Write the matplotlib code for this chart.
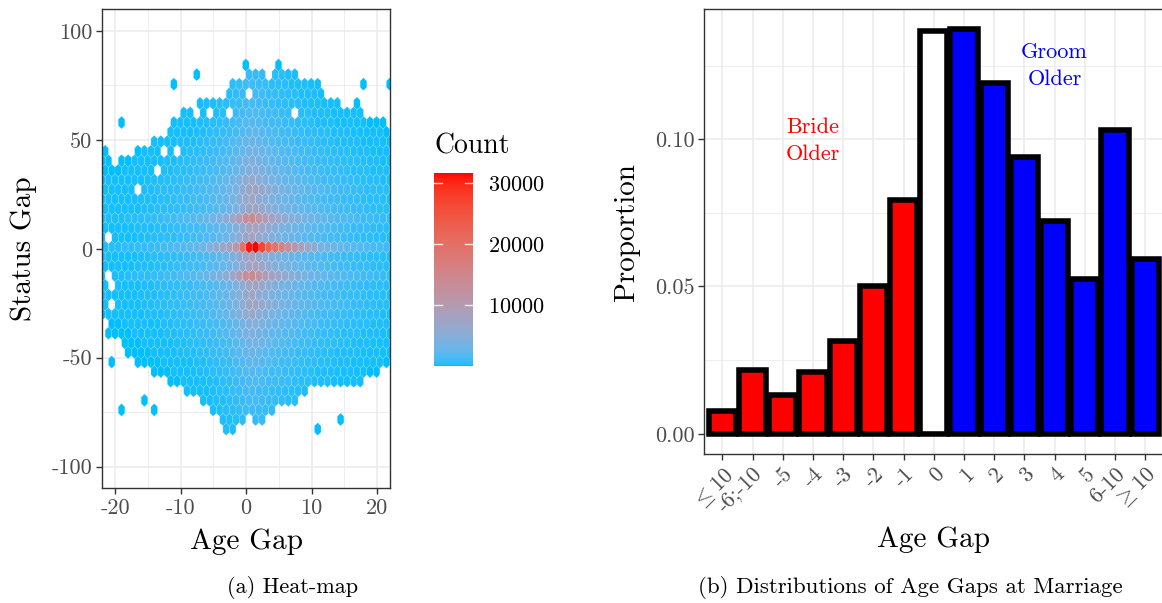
import numpy as np
import matplotlib
matplotlib.use('Agg')
import matplotlib.pyplot as plt
from matplotlib.collections import PolyCollection
from matplotlib.colors import ListedColormap, Normalize

plt.rcParams['font.family'] = 'serif'
plt.rcParams['font.serif'] = ['cmr10']
plt.rcParams['mathtext.fontset'] = 'cm'
plt.rcParams['axes.unicode_minus'] = False
plt.rcParams['axes.formatter.use_mathtext'] = True

# ---- (a) heat-map ----
ages = list(range(-22, 23))
# upper / lower edge of the filled cloud for each age gap column
col_top = [45, 41, 38, 42, 42, 47, 48, 48, 49, 52, 55, 60, 63, 63, 64, 67, 67, 67, 70, 72, 76, 78, 82,
           79, 79, 78, 81, 79, 79, 79, 78, 77, 78, 76, 70, 67, 67, 64, 64, 66, 62, 60, 60, 58, 52]
col_bot = [-30, -38, -39, -44, -50, -52, -53, -55, -57, -58, -60, -60, -63, -65, -68, -71, -73, -76, -80,
           -85, -82, -78, -77, -80, -79, -74, -74, -73, -72, -70, -68, -67, -64, -62, -62, -63, -64, -62,
           -60, -60, -58, -58, -56, -54, -52]
# typical count per column (rows a few steps off the zero-status row)
col_level = [250, 280, 320, 360, 400, 450, 520, 600, 700, 800, 950, 1100, 1300, 1550, 1850, 2200, 2700,
             3300, 4200, 5400, 7000, 9500, 13000, 14000, 11500, 9500, 8000, 6800, 5800, 5000, 4300, 3700,
             3200, 2800, 2400, 2100, 1850, 1600, 1400, 1250, 1100, 950, 850, 750, 650]
# relative level by distance (in hex rows) from the status-gap-0 row
row_level = [1.4, 0.55, 0.6, 1.0, 0.55, 0.5, 0.55, 0.45, 0.35, 0.3, 0.25, 0.2, 0.16, 0.13, 0.11,
             0.09, 0.08, 0.07, 0.06, 0.05, 0.05]
# counts along the status gap = 0 row
zero_row = {-6: 4500, -5: 5500, -4: 6500, -3: 8000, -2: 11000, -1: 19000, 0: 31000, 1: 31763,
            2: 27000, 3: 22000, 4: 19000, 5: 16000, 6: 13000, 7: 10500, 8: 8500, 9: 7000, 10: 5500}
lone_hex = [(-19.0, 57), (-11.2, 74), (-7.5, 79), (17.9, 74), (21.8, 75), (0.05, 84), (4.9, 84),
            (-18.9, -73), (-15.5, -68), (-14.0, -72), (11.0, -81), (14.5, -77), (-20.4, -50)]
holes = [(-7.7, 61), (-5.6, 61), (-2.6, 61), (7.4, 61), (0.3, 70), (-12.5, 44), (-10.6, 44),
         (-13.6, 35), (-16.6, 27), (18.7, 61), (-21.4, 6), (-21.4, -10.5), (-20.4, -16.5), (-20.4, -25)]

# ---- (b) distribution of age gaps ----
gap_labels = [r'$\leq$10', '-6;-10', '-5', '-4', '-3', '-2', '-1', '0', '1', '2', '3', '4', '5',
              '6-10', r'$\geq$10']
proportion = [0.0078, 0.0217, 0.0133, 0.0208, 0.0314, 0.0501, 0.0794, 0.1368, 0.1373, 0.1190,
              0.0941, 0.0722, 0.0526, 0.1031, 0.0594]
bar_colors = ['red'] * 7 + ['white'] + ['blue'] * 7


# ggplot style gradient (interpolated in CIELAB)
def to_lab(rgb):
    c = np.asarray(rgb, float)
    c = np.where(c > 0.04045, ((c + 0.055) / 1.055) ** 2.4, c / 12.92)
    m = np.array([[0.4124, 0.3576, 0.1805], [0.2126, 0.7152, 0.0722], [0.0193, 0.1192, 0.9505]])
    xyz = m @ c / np.array([0.95047, 1.0, 1.08883])
    f = np.where(xyz > 0.008856, np.cbrt(xyz), 7.787 * xyz + 16 / 116)
    return np.array([116 * f[1] - 16, 500 * (f[0] - f[1]), 200 * (f[1] - f[2])])


def from_lab(lab):
    fy = (lab[0] + 16) / 116
    f = np.array([fy + lab[1] / 500, fy, fy - lab[2] / 200])
    xyz = np.where(f > 0.2069, f ** 3, (f - 16 / 116) / 7.787) * np.array([0.95047, 1.0, 1.08883])
    mi = np.array([[3.2406, -1.5372, -0.4986], [-0.9689, 1.8758, 0.0415], [0.0557, -0.2040, 1.0570]])
    c = mi @ xyz
    c = np.where(c > 0.0031308, 1.055 * np.clip(c, 0, None) ** (1 / 2.4) - 0.055, 12.92 * c)
    return np.clip(c, 0, 1)


lo, hi = to_lab([0, 191 / 255, 1]), to_lab([1, 0, 0])
cmap = ListedColormap([from_lab(lo + (hi - lo) * t) for t in np.linspace(0, 1, 256)])

# hex grid
dy = 4.4
y0 = 0.8
hexw = 1.0
hexh = 4 * dy / 3
shape = np.array([[0, hexh / 2], [hexw / 2, hexh / 4], [hexw / 2, -hexh / 4],
                  [0, -hexh / 2], [-hexw / 2, -hexh / 4], [-hexw / 2, hexh / 4]])

grid = {}
for j in range(-21, 22):
    for i, k in enumerate(ages):
        cx = k + (0.45 if j % 2 == 0 else -0.05)
        cy = y0 + j * dy
        grid[(j, k)] = (cx, cy, i)

cells = {}
for (j, k), (cx, cy, i) in grid.items():
    if col_bot[i] - 1 <= cy <= col_top[i] + 1:
        if j == 0 and k in zero_row:
            n = zero_row[k]
        else:
            n = col_level[i] * row_level[min(abs(j), len(row_level) - 1)]
        cells[(j, k)] = n


def nearest(px, py, keys):
    return min(keys, key=lambda q: (grid[q][0] - px) ** 2 + ((grid[q][1] - py) / 4.4) ** 2)


for px, py in holes:
    cells.pop(nearest(px, py, list(cells)), None)
for px, py in lone_hex:
    cells[nearest(px, py, list(grid))] = 30

verts = [shape + np.array(grid[q][:2]) for q in cells]
counts = np.array([cells[q] for q in cells])

fig = plt.figure(figsize=(11.62, 6.03), dpi=100)
ax1 = fig.add_axes([0.0880, 0.1902, 0.2476, 0.7944])
cax = fig.add_axes([0.3735, 0.393, 0.0336, 0.3206])
ax2 = fig.add_axes([0.6061, 0.2471, 0.395, 0.7375])

grid_col = '#EBEBEB'
tick_col = '#4D4D4D'

pc = PolyCollection(verts, array=counts, cmap=cmap, norm=Normalize(0, 31763),
                    edgecolors=(1, 1, 1, 0.22), linewidths=0.4, zorder=2)
ax1.add_collection(pc)
ax1.set_xlim(-22, 22)
ax1.set_ylim(-110, 110)
ax1.set_xticks([-20, -10, 0, 10, 20], ['-20', '-10', '0', '10', '20'])
ax1.set_yticks([-100, -50, 0, 50, 100], ['-100', '-50', '0', '50', '100'])
ax1.set_xticks([-15, -5, 5, 15], minor=True)
ax1.set_yticks([-75, -25, 25, 75], minor=True)
ax1.grid(True, which='major', color=grid_col, linewidth=1.1, zorder=0)
ax1.grid(True, which='minor', color=grid_col, linewidth=0.6, zorder=0)
ax1.tick_params(which='minor', length=0)
ax1.set_axisbelow(True)
ax1.set_xlabel('Age Gap', fontsize=21)
ax1.set_ylabel('Status Gap', fontsize=21)
ax1.xaxis.set_label_coords(0.5, -0.083)
ax1.yaxis.set_label_coords(-0.227, 0.5)

cb = fig.colorbar(pc, cax=cax)
cb.outline.set_visible(False)
cb.set_ticks([10000, 20000, 30000])
cb.ax.tick_params(length=0, labelsize=16, pad=11)
for v in [10000, 20000, 30000]:
    cax.axhline(v, xmin=0, xmax=0.2, color='white', linewidth=1, alpha=0.8)
    cax.axhline(v, xmin=0.8, xmax=1, color='white', linewidth=1, alpha=0.8)
fig.text(0.3735, 0.757, 'Count', fontsize=20, ha='left', va='center')

# bars
pos = np.arange(len(proportion))
ax2.bar(pos, proportion, width=0.9, color=bar_colors, edgecolor='black', linewidth=4, zorder=3)
ax2.set_xlim(-0.6, len(proportion) - 0.4)
ax2.set_ylim(-0.00687, 0.1441)
ax2.set_xticks(pos, gap_labels, rotation=45, ha='right', va='top', rotation_mode='anchor')
ax2.set_yticks([0.0, 0.05, 0.10], ['0.00', '0.05', '0.10'])
ax2.set_yticks([0.025, 0.075, 0.125], minor=True)
ax2.grid(True, which='major', color=grid_col, linewidth=1.1, zorder=0)
ax2.grid(True, which='minor', axis='y', color=grid_col, linewidth=0.6, zorder=0)
ax2.tick_params(which='minor', length=0)
ax2.set_axisbelow(True)
ax2.text(3, 0.0995, 'Bride\nOlder', color='red', fontsize=16, ha='center', va='center', linespacing=1.45)
ax2.text(11, 0.1249, 'Groom\nOlder', color='blue', fontsize=16, ha='center', va='center', linespacing=1.48)
ax2.set_xlabel('Age Gap', fontsize=21)
ax2.set_ylabel('Proportion', fontsize=21)
ax2.xaxis.set_label_coords(0.5, -0.164)
ax2.yaxis.set_label_coords(-0.14, 0.5)

for ax in (ax1, ax2):
    for s in ax.spines.values():
        s.set_color('#333333')
        s.set_linewidth(1.0)
    ax.tick_params(which='major', length=4, width=1, color='#333333', labelcolor=tick_col,
                   labelsize=16, pad=3)

fig.text(0.2515, 0.006, '(a) Heat-map', fontsize=16, ha='center', va='bottom')
fig.text(0.783, 0.006, '(b) Distributions of Age Gaps at Marriage', fontsize=16.5, ha='center', va='bottom')

fig.savefig('out.png', dpi=100)
